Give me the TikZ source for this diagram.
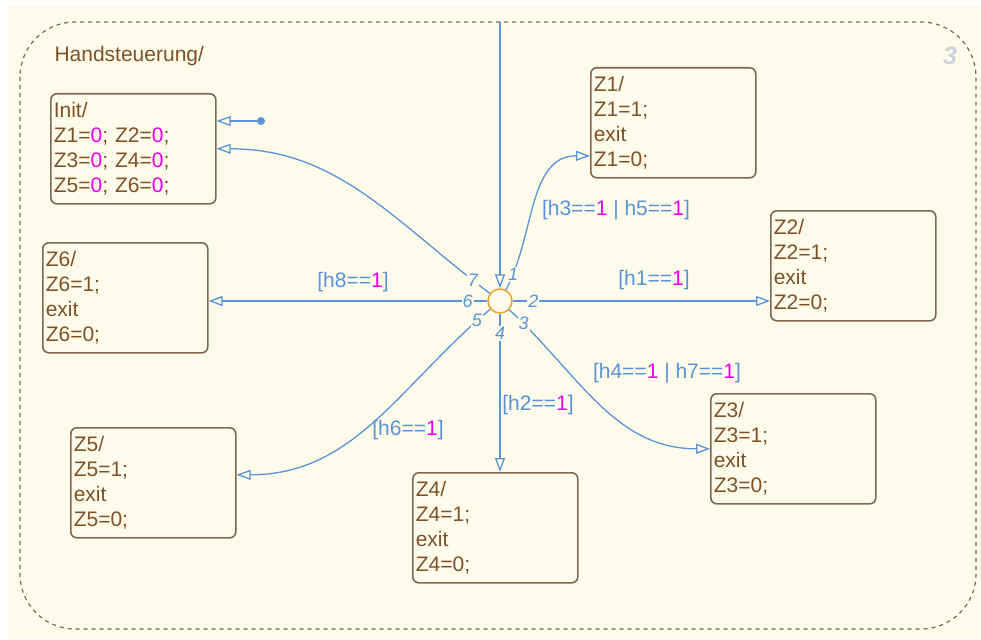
\documentclass[tikz,border=0pt]{standalone}
\usepackage{fontspec}
\setmainfont{Liberation Sans}
\usepackage{tikz}
\usepackage{xcolor}
\usetikzlibrary{arrows.meta,positioning,calc}
\definecolor{sfcream}{RGB}{255,251,235}
\definecolor{sfbrown}{RGB}{125,82,40}
\definecolor{sfedge}{RGB}{128,104,80}
\definecolor{sfblue}{RGB}{88,148,215}
\definecolor{sfmag}{RGB}{235,0,235}
\definecolor{sforange}{RGB}{232,162,40}
\definecolor{sfgray}{RGB}{205,212,218}
\newcommand{\mg}[1]{\textcolor{sfmag}{#1}}

\begin{document}
\begin{tikzpicture}[x=1pt, y=1pt, >={Triangle[length=14pt,width=10pt,fill=sfcream]},
  every node/.style={font=\fontsize{21}{25}\selectfont},
  state/.style={draw=sfedge, line width=1.6pt, rounded corners=6pt, fill=sfcream, text=sfbrown,
    align=left, text width=159pt, inner xsep=3pt, inner ysep=0pt, minimum height=110pt, anchor=north west},
  trans/.style={draw=sfblue, line width=1.3pt, ->},
  guard/.style={text=sfblue},
  num/.style={text=sfblue, font=\fontsize{18}{18}\selectfont\itshape, fill=sfcream, inner sep=1pt}]
\useasboundingbox (0,0) rectangle (981,-639);
\fill[sfcream] (8,-6) rectangle (981,-639);
\draw[sfedge, line width=1.2pt, dash pattern=on 4pt off 4pt, rounded corners=55pt] (20,-22) rectangle (976,-629);
\node[text=sfbrown, anchor=base west] (chart) at (51,-62) {Handsteuerung/};
\node[text=sfgray, font=\fontsize{25}{25}\selectfont\bfseries\itshape] (chartnum) at (950,-56) {3};

% states
\node[state] (init) at (50,-93) {Init/\\Z1=\mg{0}; Z2=\mg{0};\\Z3=\mg{0}; Z4=\mg{0};\\Z5=\mg{0}; Z6=\mg{0};};
\foreach \n/\x/\y in {1/590/67,2/770/210,3/710/393,4/412/472,5/70/427,6/42/242}
  \node[state] (z\n) at (\x,-\y) {Z\n/\\Z\n=1;\\exit\\Z\n=0;};

% junction and default transition
\node[circle, draw=sforange, line width=1.5pt, fill=sfcream, minimum size=24pt, inner sep=0pt] (j) at (500,-301) {};
\coordinate (top) at (500,-22);
\node[circle, fill=sfblue, minimum size=8pt, inner sep=0pt] (dot) at (261,-121) {};

% transitions
\draw[trans] (top) -- (j);
\draw[trans] (dot) -- (init.east |- dot);
\draw[trans] (j) to[out=62,in=180] node[num,pos=0.09]{1} ([yshift=-33pt]z1.west);
\draw[trans] (j) -- node[num,pos=0.08]{2} (z2.west |- j);
\draw[trans] (j) to[out=-43,in=180] node[num,pos=0.07]{3} (z3.west);
\draw[trans] (j) -- node[num,pos=0.125]{4} (z4.north -| j);
\draw[trans] (j) to[out=220,in=0] node[num,pos=0.05]{5} ([yshift=8pt]z5.east);
\draw[trans] (j) -- node[num,pos=0.07]{6} (z6.east |- j);
\draw[trans] (j) to[out=143,in=0] node[num,pos=0.06]{7} (init.east);

% guards
\node[guard] (g1) at (616,-210) {[h3==\mg{1} | h5==\mg{1}]};
\node[guard] (g2) at (654,-280) {[h1==\mg{1}]};
\node[guard] (g3) at (667,-373) {[h4==\mg{1} | h7==\mg{1}]};
\node[guard] (g4) at (538,-405) {[h2==\mg{1}]};
\node[guard] (g5) at (408,-430) {[h6==\mg{1}]};
\node[guard] (g6) at (353,-282) {[h8==\mg{1}]};
\end{tikzpicture}
\end{document}
